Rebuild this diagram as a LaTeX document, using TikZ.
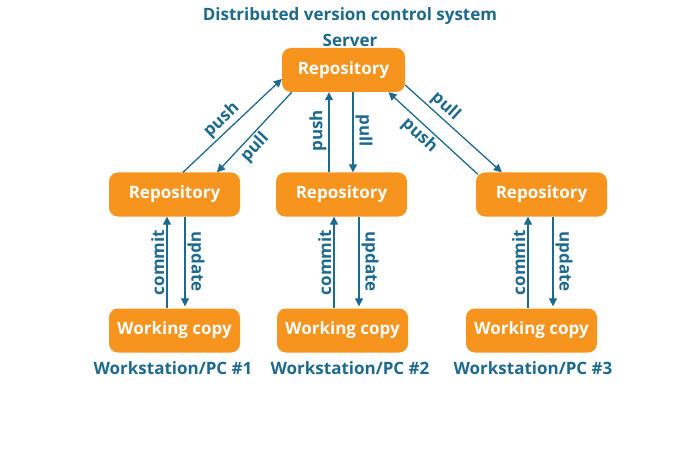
\documentclass[tikz,border=0pt]{standalone}
\usepackage{fontspec}
\setmainfont{Open Sans}
\usetikzlibrary{arrows.meta}
\definecolor{boxorange}{HTML}{F7941D}
\definecolor{lineblue}{HTML}{1D6A8E}

\begin{document}
\begin{tikzpicture}[x=1pt, y=-1pt,
    repobox/.style={fill=boxorange, rounded corners=9pt, text=white,
        minimum width=131pt, minimum height=44pt, inner sep=0pt,
        font=\fontsize{17}{20}\selectfont\bfseries},
    sitetext/.style={text=lineblue, font=\fontsize{17}{20}\selectfont\bfseries},
    flow/.style={draw=lineblue, line width=1.3pt, -{Triangle[length=8pt,width=8pt]}},
    verb/.style={text=lineblue, inner sep=2pt, font=\fontsize{17}{20}\selectfont\bfseries}]
        \useasboundingbox (0,0) rectangle (700,462);

        % Title and server
        \node[sitetext] (title) at (350,16) {Distributed version control system};
        \node[sitetext] (server) at (350,40) {Server};
        \node[repobox, minimum width=123pt] (top) at (343.5,70) {Repository};

        % Local repositories
        \node[repobox] (repo1) at (174.5,194.5) {Repository};
        \node[repobox] (repo2) at (341.5,194.5) {Repository};
        \node[repobox] (repo3) at (541.5,194.5) {Repository};

        % Working copies
        \node[repobox] (wc1) at (174.5,330.5) {Working copy};
        \node[repobox] (wc2) at (342.5,330.5) {Working copy};
        \node[repobox] (wc3) at (531.5,330.5) {Working copy};

        % Workstation names
        \node[sitetext] (pc1) at (173,368) {Workstation/PC \#1};
        \node[sitetext] (pc2) at (350,368) {Workstation/PC \#2};
        \node[sitetext] (pc3) at (533,368) {Workstation/PC \#3};

        % Push and pull between server and workstations
        \draw[flow] ([xshift=8.5pt]repo1.north) -- ([yshift=-9pt]top.west)
            node[verb, pos=0.47, sloped, above] {push};
        \draw[flow] ([xshift=10pt]top.south west) -- ([xshift=42.5pt]repo1.north)
            node[verb, pos=0.6, sloped, below] {pull};
        \draw[flow] ([xshift=-12.5pt]repo2.north) -- ([xshift=-12.5pt]repo2.north |- top.south)
            node[verb, pos=0.52, sloped, above] {push};
        \draw[flow] ([xshift=11.5pt]repo2.north |- top.south) -- ([xshift=11.5pt]repo2.north)
            node[verb, pos=0.48, sloped, above] {pull};
        \draw[flow] ([yshift=-15pt]top.east) -- ([xshift=26pt]repo3.north west)
            node[verb, pos=0.34, sloped, above] {pull};
        \draw[flow] ([xshift=2pt,yshift=-2pt]repo3.north west) -- ([xshift=45pt]top.south)
            node[verb, pos=0.57, sloped, below] {push};

        % Commit and update on each workstation
        \draw[flow] ([xshift=-7.5pt]wc1.north) -- ([xshift=-7.5pt]wc1.north |- repo1.south)
            node[verb, midway, sloped, above] {commit};
        \draw[flow] ([xshift=10.5pt]wc1.north |- repo1.south) -- ([xshift=10.5pt,yshift=2pt]wc1.north)
            node[verb, midway, sloped, above] {update};
        \draw[flow] ([xshift=-8.5pt]wc2.north) -- ([xshift=-8.5pt]wc2.north |- repo2.south)
            node[verb, midway, sloped, above] {commit};
        \draw[flow] ([xshift=16.5pt]wc2.north |- repo2.south) -- ([xshift=16.5pt,yshift=2pt]wc2.north)
            node[verb, midway, sloped, above] {update};
        \draw[flow] ([xshift=-3.5pt]wc3.north) -- ([xshift=-3.5pt]wc3.north |- repo3.south)
            node[verb, midway, sloped, above] {commit};
        \draw[flow] ([xshift=21.5pt]wc3.north |- repo3.south) -- ([xshift=21.5pt,yshift=2pt]wc3.north)
            node[verb, midway, sloped, above] {update};
\end{tikzpicture}
\end{document}
